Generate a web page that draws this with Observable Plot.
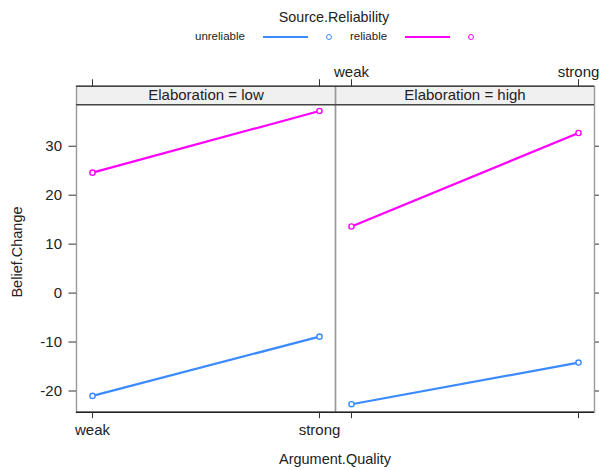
<!DOCTYPE html>
<html><head><meta charset="utf-8">
<script src="https://cdn.jsdelivr.net/npm/d3@7"></script>
<script src="https://cdn.jsdelivr.net/npm/@observablehq/plot@0.6"></script>
<style>
body{margin:0;background:#fff;font-family:"Liberation Sans",Arial,sans-serif;color:#222;}
#legend{position:relative;height:50px;width:599px;}
#legend .t{position:absolute;white-space:nowrap;}
#legend .ln{position:absolute;height:0;border-top:2.5px solid;}
#legend .pt{position:absolute;width:4px;height:4px;border:1.3px solid;border-radius:50%;}
#chart svg{display:block;}
</style></head><body>
<div id="legend"></div>
<div id="chart"></div>
<script>
// ---- data ----
const elaboration = ["low", "high"];
const quality = ["weak", "strong"];
const sources = ["unreliable", "reliable"];
const unreliableLow = [-21.0, -8.9];
const unreliableHigh = [-22.7, -14.2];
const reliableLow = [24.6, 37.2];
const reliableHigh = [13.6, 32.7];
const yTicks = [-20, -10, 0, 10, 20, 30];
const colors = ["#3b8bff", "#ff00ff"];
const legendTitle = "Source.Reliability";
const xTitle = "Argument.Quality";
const yTitle = "Belief.Change";
const yLimits = [-24.33, 38.46];
const stripUnits = 3.8;

// ---- table ----
const series = {
  unreliable: {low: unreliableLow, high: unreliableHigh},
  reliable: {low: reliableLow, high: reliableHigh}
};
const rows = [];
for (const s of sources) for (const e of elaboration) quality.forEach((q, i) => rows.push({src: s, E: e, q, v: series[s][e][i]}));
const stripData = elaboration.map(E => ({E, y1: yLimits[1], y2: yLimits[1] + stripUnits, ym: yLimits[1] + stripUnits / 2}));
const topLabels = quality.map(q => ({E: "high", q}));
const bottomLabels = quality.map(q => ({E: "low", q}));

// ---- legend ----
const lg = document.getElementById("legend");
function add(html){ lg.insertAdjacentHTML("beforeend", html); }
add(`<div class="t" style="left:334px;top:9px;transform:translateX(-50%);font-size:14.3px;">${legendTitle}</div>`);
const itemX = [[195, 263, 326], [350, 405, 468]];
sources.forEach((s, i) => {
  const [tx, lx, px] = itemX[i];
  add(`<div class="t" style="left:${tx}px;top:30px;font-size:11.5px;">${s}</div>`);
  add(`<div class="ln" style="left:${lx}px;top:36px;width:45px;border-color:${colors[i]}"></div>`);
  add(`<div class="pt" style="left:${px}px;top:34px;border-color:${colors[i]}"></div>`);
});

// ---- chart ----
const fs = 15;
const chart = Plot.plot({
  width: 599,
  height: 420,
  marginLeft: 76,
  marginRight: 4.5,
  marginTop: 35.7,
  marginBottom: 58.3,
  style: {fontFamily: "Liberation Sans, Arial, sans-serif", fontSize: fs + "px", color: "#222", background: "#fff"},
  fx: {domain: elaboration, padding: 0, axis: null},
  x: {type: "point", domain: quality, padding: 0.07},
  y: {domain: [yLimits[0], yLimits[1] + stripUnits]},
  color: {domain: sources, range: colors},
  marks: [
    Plot.rect(stripData, {fx: "E", y1: "y1", y2: "y2", fill: "#f0f0f0"}),
    Plot.frame({stroke: "#999", strokeWidth: 1.4}),
    Plot.ruleY(stripData, {fx: "E", y: "y1", stroke: "#444", strokeWidth: 1.4}),
    Plot.ruleY(stripData, {fx: "E", y: "y2", stroke: "#444", strokeWidth: 1.4}),
    Plot.ruleY(elaboration.map(E => ({E, y: yLimits[0]})), {fx: "E", y: "y", stroke: "#222", strokeWidth: 1.4}),
    Plot.text(stripData, {fx: "E", y: "ym", text: d => `Elaboration = ${d.E}`, fontSize: fs, fill: "#222"}),
    Plot.axisY({anchor: "left", ticks: yTicks, tickSize: 7.5, tickPadding: 7, fontSize: fs, label: null, stroke: "#333", tickFormat: d => String(d)}),
    Plot.axisY({anchor: "right", ticks: yTicks, tickSize: 5, tickFormat: () => "", label: null, stroke: "#333"}),
    Plot.axisX({anchor: "top", tickSize: 7.5, tickFormat: () => "", label: null, stroke: "#333"}),
    Plot.axisX({anchor: "bottom", tickSize: 6.5, tickFormat: () => "", label: null, stroke: "#333"}),
    Plot.text(topLabels, {fx: "E", x: "q", text: "q", frameAnchor: "top", dy: -20, fontSize: fs, fill: "#222"}),
    Plot.text(bottomLabels, {fx: "E", x: "q", text: "q", frameAnchor: "bottom", dy: 23, fontSize: fs, fill: "#222"}),
    Plot.line(rows, {fx: "E", x: "q", y: "v", z: "src", stroke: "src", strokeWidth: 2.2}),
    Plot.dot(rows, {fx: "E", x: "q", y: "v", stroke: "src", fill: "white", r: 2.6, strokeWidth: 1.4})
  ]
});
document.getElementById("chart").appendChild(chart);
const svg = d3.select(chart);
svg.append("text").attr("transform", "translate(17,202) rotate(-90)")
  .attr("text-anchor", "middle").attr("dominant-baseline", "central")
  .attr("font-size", 14.5).attr("fill", "#222").text(yTitle);
svg.append("text").attr("x", 335).attr("y", 409)
  .attr("text-anchor", "middle").attr("dominant-baseline", "central")
  .attr("font-size", 14.5).attr("fill", "#222").text(xTitle);
</script>
</body></html>
